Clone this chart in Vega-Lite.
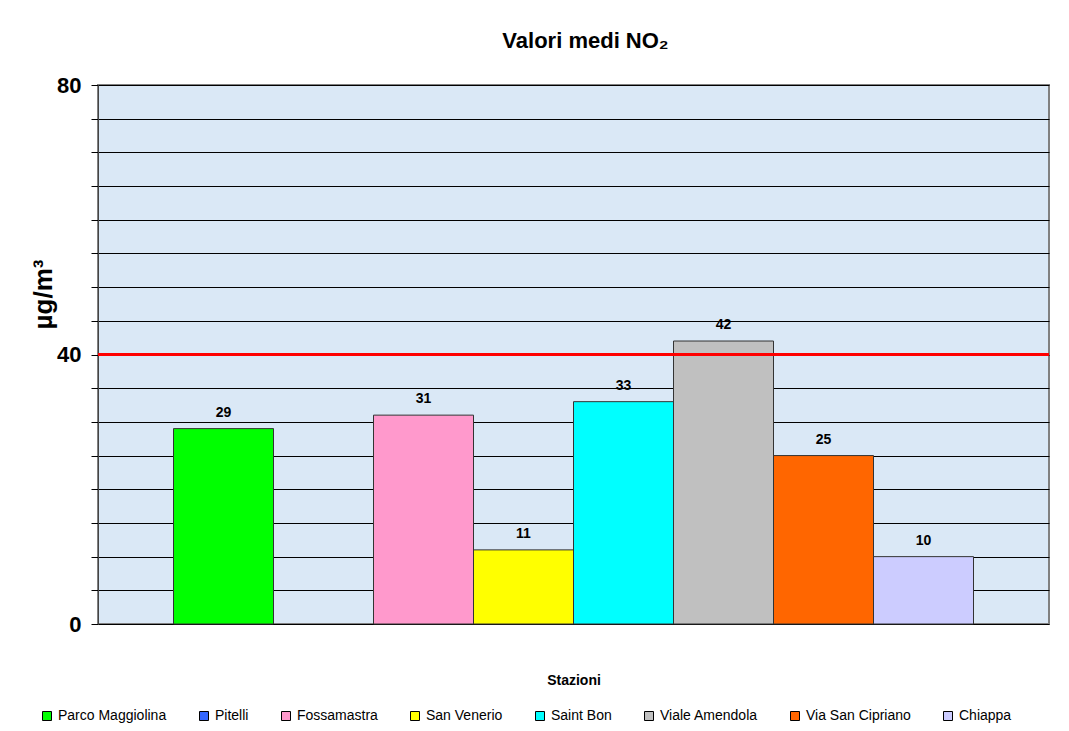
{
  "$schema": "https://vega.github.io/schema/vega-lite/v6.json",
  "width": 951,
  "height": 539,
  "autosize": {"type": "none"},
  "padding": {"left": 98, "top": 85, "right": 20, "bottom": 107},
  "background": "white",
  "title": {
    "text": "Valori medi NO₂",
    "font": "Liberation Sans",
    "fontSize": 22,
    "fontWeight": "bold",
    "color": "black",
    "anchor": "middle",
    "offset": 21,
    "dx": 12
  },
  "datasets": {
    "no2": [
      {"stazione": "Parco Maggiolina", "valore": 29},
      {"stazione": "Pitelli", "valore": null},
      {"stazione": "Fossamastra", "valore": 31},
      {"stazione": "San Venerio", "valore": 11},
      {"stazione": "Saint Bon", "valore": 33},
      {"stazione": "Viale Amendola", "valore": 42},
      {"stazione": "Via San Cipriano", "valore": 25},
      {"stazione": "Chiappa", "valore": 10}
    ],
    "limite": [{"limite": 40}]
  },
  "layer": [
    {
      "data": {"name": "no2"},
      "transform": [{"filter": "datum.valore != null"}],
      "mark": {"type": "bar", "stroke": "#333333", "strokeWidth": 1},
      "encoding": {
        "x": {
          "field": "stazione",
          "type": "nominal",
          "sort": null,
          "scale": {
            "domain": ["Parco Maggiolina", "Pitelli", "Fossamastra", "San Venerio", "Saint Bon", "Viale Amendola", "Via San Cipriano", "Chiappa"],
            "paddingInner": 0,
            "paddingOuter": 0.755
          },
          "axis": {
            "labels": false,
            "ticks": false,
            "domain": false,
            "title": "Stazioni",
            "titleFont": "Liberation Sans",
            "titleFontSize": 14,
            "titleFontWeight": "bold",
            "titleColor": "black",
            "titlePadding": 49
          }
        },
        "y": {
          "field": "valore",
          "type": "quantitative",
          "scale": {"domain": [0, 80], "nice": false, "zero": true},
          "axis": {
            "values": [0, 5, 10, 15, 20, 25, 30, 35, 40, 45, 50, 55, 60, 65, 70, 75, 80],
            "labelExpr": "datum.value % 40 === 0 ? datum.label : ''",
            "labelOverlap": false,
            "grid": true,
            "gridColor": "black",
            "gridWidth": 1,
            "gridOpacity": 1,
            "tickSize": 7,
            "tickColor": "black",
            "domainColor": "#444444",
            "labelFont": "Liberation Sans",
            "labelFontSize": 22,
            "labelFontWeight": "bold",
            "labelColor": "black",
            "labelPadding": 10,
            "title": "µg/m³",
            "titleFont": "Liberation Sans",
            "titleFontSize": 26,
            "titleFontWeight": "bold",
            "titleColor": "black",
            "titleBaseline": "alphabetic",
            "titleAlign": "center",
            "titleX": -47,
            "titleY": 209,
            "titleAngle": -90
          }
        },
        "color": {
          "field": "stazione",
          "type": "nominal",
          "scale": {
            "domain": ["Parco Maggiolina", "Pitelli", "Fossamastra", "San Venerio", "Saint Bon", "Viale Amendola", "Via San Cipriano", "Chiappa"],
            "range": ["#00FF00", "#3366FF", "#FF99CC", "#FFFF00", "#00FFFF", "#C0C0C0", "#FF6600", "#CCCCFF"]
          },
          "legend": {
            "orient": "none",
            "legendX": -58,
            "legendY": 624,
            "direction": "horizontal",
            "columns": 8,
            "gridAlign": "none",
            "columnPadding": 30,
            "title": null,
            "symbolType": "square",
            "symbolSize": 81,
            "symbolStrokeColor": "black",
            "symbolStrokeWidth": 1,
            "symbolOpacity": 1,
            "labelFont": "Liberation Sans",
            "labelFontSize": 14,
            "labelColor": "black",
            "labelOffset": 4
          }
        }
      }
    },
    {
      "data": {"name": "no2"},
      "transform": [{"filter": "datum.valore != null"}],
      "mark": {"type": "text", "baseline": "bottom", "dy": -9, "font": "Liberation Sans", "fontSize": 14, "fontWeight": "bold", "color": "black"},
      "encoding": {
        "x": {"field": "stazione", "type": "nominal", "sort": null},
        "y": {
          "field": "valore",
          "type": "quantitative",
          "axis": {"values": [0, 5, 10, 15, 20, 25, 30, 35, 40, 45, 50, 55, 60, 65, 70, 75, 80]}
        },
        "text": {"field": "valore", "type": "quantitative"}
      }
    },
    {
      "data": {"name": "limite"},
      "mark": {"type": "rule", "color": "#FF0000", "strokeWidth": 3},
      "encoding": {
        "y": {
          "field": "limite",
          "type": "quantitative",
          "axis": {"values": [0, 5, 10, 15, 20, 25, 30, 35, 40, 45, 50, 55, 60, 65, 70, 75, 80]}
        }
      }
    }
  ],
  "config": {
    "view": {"fill": "#dae8f6", "stroke": "#808080", "strokeWidth": 2}
  }
}
